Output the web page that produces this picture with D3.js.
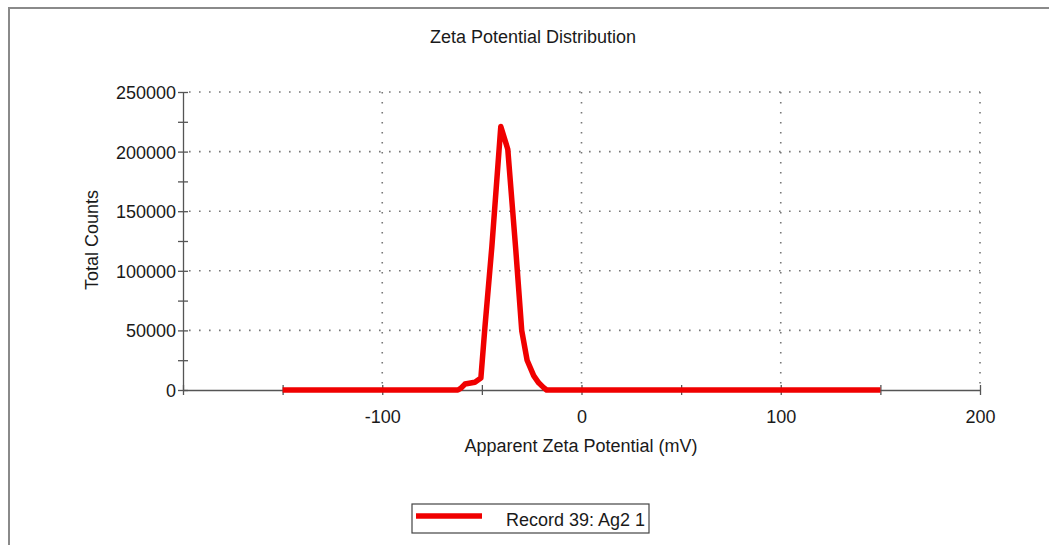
<!DOCTYPE html>
<html>
<head>
<meta charset="utf-8">
<script src="https://cdn.jsdelivr.net/npm/d3@7"></script>
<style>
  html, body { margin: 0; padding: 0; background: #fff; }
  svg { display: block; font-family: "Liberation Sans", Arial, sans-serif; }
  .axis path, .axis line { stroke: #555; stroke-width: 1.3; }
  .axis text { fill: #1a1a1a; font-size: 18px; }
</style>
</head>
<body>
<div id="chart"></div>
<script>
// zeta potential (mV) and counts
const ZETA   = [-150, -62, -60.5, -58.5, -53.5, -50.5, -48.5, -45, -40.5, -37, -33, -30, -27.3, -24, -21.5, -19, -17.5, 150];
const COUNTS = [0, 0, 1500, 5000, 6500, 10000, 52000, 120000, 221000, 202000, 118000, 50000, 25000, 12000, 6000, 2000, 0, 0];

const X_LABELS = [-100, 0, 100, 200];
const X_TICKS  = [-200, -150, -100, -50, 0, 50, 100, 150, 200];
const Y_LABELS = [0, 50000, 100000, 150000, 200000, 250000];
const Y_TICKS  = d3.range(0, 250001, 25000);

const TITLE = "Zeta Potential Distribution";
const X_TITLE = "Apparent Zeta Potential (mV)";
const Y_TITLE = "Total Counts";
const LEGEND_LABEL = "Record 39: Ag2 1";

const width = 1049, height = 545;

const svg = d3.select("#chart").append("svg")
  .attr("width", width)
  .attr("height", height);

// outer frame
svg.append("rect")
  .attr("x", 9).attr("y", 8)
  .attr("width", 1200).attr("height", 700)
  .attr("fill", "none")
  .attr("stroke", "#8a8a8a")
  .attr("stroke-width", 2);

const x = d3.scaleLinear().domain([-200, 200]).range([183, 980]);
const y = d3.scaleLinear().domain([0, 250000]).range([390, 92]);

// ------- GRID -------
const grid = svg.append("g")
  .attr("stroke", "#777")
  .attr("stroke-width", 1.6)
  .attr("stroke-dasharray", "1.6,8.4")
  .attr("fill", "none");

grid.selectAll("line.h")
  .data(Y_LABELS.filter(d => d > 0))
  .enter().append("line")
  .attr("class", "h")
  .attr("x1", x(-200) + 6).attr("x2", x(200))
  .attr("y1", d => y(d)).attr("y2", d => y(d));

grid.selectAll("line.v")
  .data(X_LABELS)
  .enter().append("line")
  .attr("class", "v")
  .attr("x1", d => x(d)).attr("x2", d => x(d))
  .attr("y1", y(250000)).attr("y2", y(0) - 4);

// ------- AXES -------
const fmt = d => String(d);

svg.append("g")
  .attr("class", "axis")
  .attr("transform", `translate(0,${y(0)})`)
  .call(d3.axisBottom(x).tickValues(X_TICKS).tickSize(5).tickSizeOuter(0)
    .tickFormat(d => X_LABELS.includes(d) ? fmt(d) : ""))
  .call(g => g.selectAll("text").attr("dy", "1.4em"));

svg.append("g")
  .attr("class", "axis")
  .attr("transform", `translate(0,${y(0)})`)
  .call(d3.axisTop(x).tickValues(X_TICKS).tickSize(5).tickFormat(""))
  .call(g => g.select(".domain").remove());

svg.append("g")
  .attr("class", "axis")
  .attr("transform", `translate(${x(-200)},0)`)
  .call(d3.axisLeft(y).tickValues(Y_TICKS).tickSize(5).tickSizeOuter(0)
    .tickFormat(d => Y_LABELS.includes(d) ? fmt(d) : ""))
  .call(g => g.selectAll("text").attr("x", -7).attr("dy", "0.36em"));

svg.append("g")
  .attr("class", "axis")
  .attr("transform", `translate(${x(-200)},0)`)
  .call(d3.axisRight(y).tickValues(Y_TICKS).tickSize(5).tickFormat(""))
  .call(g => g.select(".domain").remove());

// ------- DATA LINE -------
const data = ZETA.map((z, i) => ({ z, c: COUNTS[i] }));

const line = d3.line()
  .x(d => x(d.z))
  .y(d => y(d.c));

svg.append("path")
  .datum(data)
  .attr("d", line)
  .attr("fill", "none")
  .attr("stroke", "#f00000")
  .attr("stroke-width", 5.5)
  .attr("stroke-linejoin", "round");

// ------- TITLES -------
svg.append("text")
  .attr("x", 533).attr("y", 43)
  .attr("text-anchor", "middle")
  .attr("font-size", 18)
  .attr("fill", "#1a1a1a")
  .text(TITLE);

svg.append("text")
  .attr("x", 581).attr("y", 452)
  .attr("text-anchor", "middle")
  .attr("font-size", 18)
  .attr("fill", "#1a1a1a")
  .text(X_TITLE);

svg.append("text")
  .attr("transform", "translate(98,240) rotate(-90)")
  .attr("text-anchor", "middle")
  .attr("font-size", 18)
  .attr("fill", "#1a1a1a")
  .text(Y_TITLE);

// ------- LEGEND -------
const legend = svg.append("g").attr("transform", "translate(412,504)");

legend.append("rect")
  .attr("width", 237).attr("height", 29)
  .attr("fill", "#fff")
  .attr("stroke", "#444")
  .attr("stroke-width", 1.2);

legend.append("line")
  .attr("x1", 4).attr("x2", 70)
  .attr("y1", 12).attr("y2", 12)
  .attr("stroke", "#f00000")
  .attr("stroke-width", 5.5);

legend.append("text")
  .attr("x", 94).attr("y", 22)
  .attr("font-size", 18)
  .attr("fill", "#1a1a1a")
  .text(LEGEND_LABEL);
</script>
</body>
</html>
